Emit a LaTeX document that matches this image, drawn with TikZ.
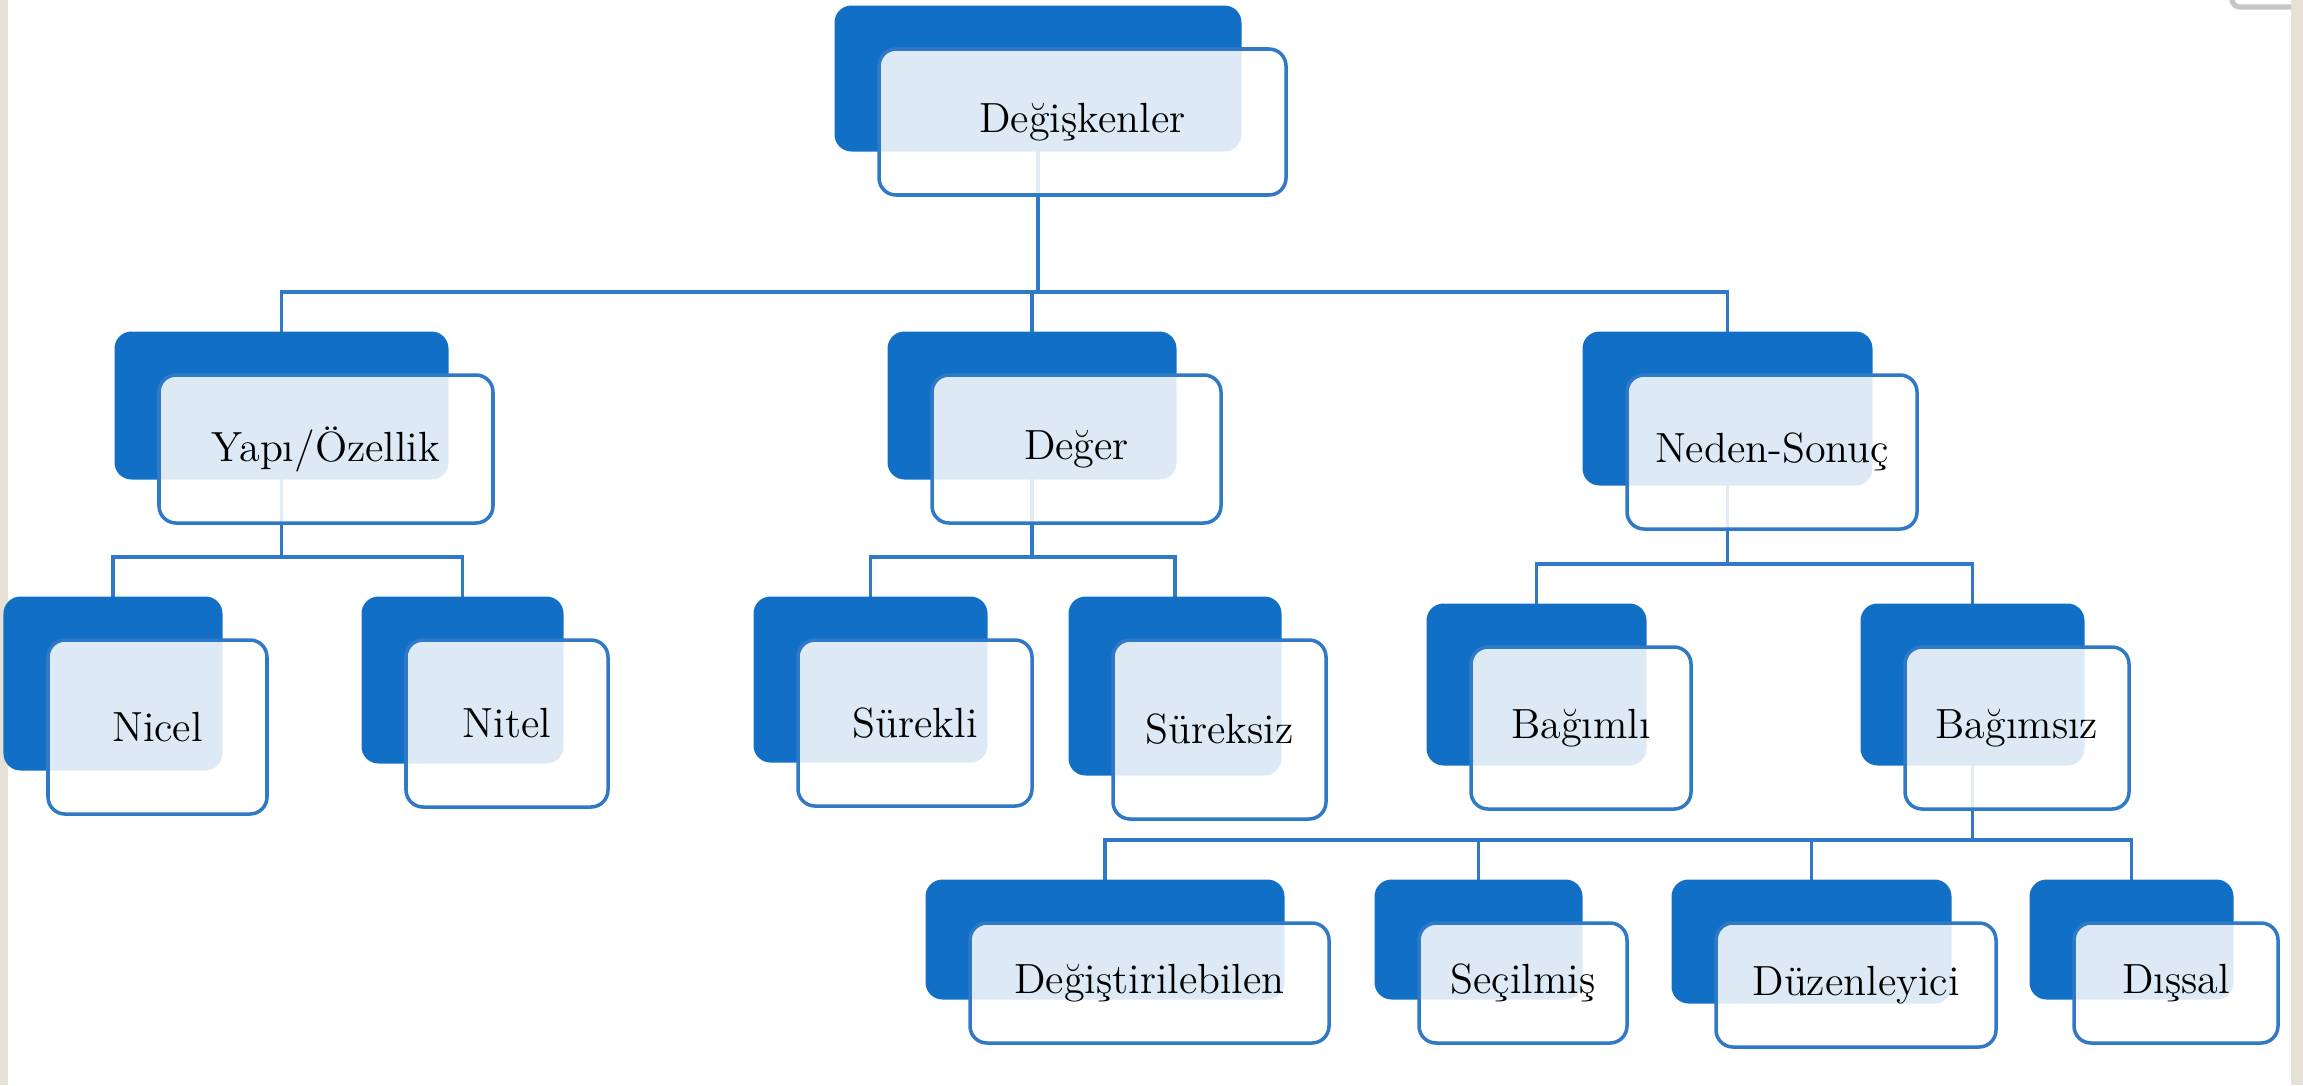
\documentclass[tikz,border=0pt]{standalone}
\usepackage{fontspec}
\usetikzlibrary{shadows,backgrounds}

\definecolor{dblue}{HTML}{1170C6}
\definecolor{lblue}{HTML}{3079C6}
\definecolor{frame}{HTML}{E6E0D6}

\begin{document}
\begin{tikzpicture}[
        card/.style = {draw=lblue, line width=1pt, fill=white, fill opacity=.86, text opacity=1,
            rounded corners=.17cm, inner sep=0pt, font=\fontsize{12}{14}\selectfont,
            general shadow={draw=none, fill=dblue, fill opacity=1, shadow xshift=-4.45mm, shadow yshift=4.35mm}},
        link/.style = {draw=lblue, line width=1.05pt},
        dk/.style = {xshift=-4.45mm}
        ]
        \useasboundingbox (0,0) rectangle (23.03,-10.85);
        \fill[frame] (0,0) rectangle (0.08,-10.85);
        \fill[frame] (22.91,0) rectangle (23.03,-10.85);
        \draw[gray!45, line width=1.5pt, rounded corners=.08cm] (22.32,0) -- (22.32,-0.07) -- (22.91,-0.07);

        \node[card, minimum width=4.07cm, minimum height=1.46cm] (vars) at (10.825,-1.22) {Değişkenler};

        \node[card, minimum width=3.34cm, minimum height=1.48cm] (yapi) at (3.26,-4.49) {Yapı/Özellik};
        \node[card, minimum width=2.89cm, minimum height=1.48cm] (deger) at (10.765,-4.49) {Değer};
        \node[card, minimum width=2.90cm, minimum height=1.54cm] (neden) at (17.72,-4.52) {Neden-Sonuç};

        \node[card, minimum width=2.19cm, minimum height=1.74cm] (nicel) at (1.575,-7.27) {Nicel};
        \node[card, minimum width=2.02cm, minimum height=1.67cm] (nitel) at (5.07,-7.235) {Nitel};
        \node[card, minimum width=2.34cm, minimum height=1.66cm] (surekli) at (9.15,-7.23) {Sürekli};
        \node[card, minimum width=2.13cm, minimum height=1.79cm] (sureksiz) at (12.195,-7.295) {Süreksiz};
        \node[card, minimum width=2.20cm, minimum height=1.62cm] (bagimli) at (15.81,-7.28) {Bağımlı};
        \node[card, minimum width=2.24cm, minimum height=1.62cm] (bagimsiz) at (20.17,-7.28) {Bağımsız};

        \node[card, minimum width=3.59cm, minimum height=1.20cm] (degis) at (11.495,-9.83) {Değiştirilebilen};
        \node[card, minimum width=2.08cm, minimum height=1.20cm] (secil) at (15.23,-9.83) {Seçilmiş};
        \node[card, minimum width=2.80cm, minimum height=1.24cm] (duzen) at (18.56,-9.85) {Düzenleyici};
        \node[card, minimum width=2.04cm, minimum height=1.20cm] (dissal) at (21.76,-9.83) {Dışsal};

        \begin{scope}[on background layer]
        \draw[link] ([dk]vars.center) |- ([dk,yshift=8.1mm]yapi.north) -- ([dk]yapi.center);
        \draw[link] ([dk]vars.center) |- ([dk,yshift=8.1mm]deger.north) -- ([dk]deger.center);
        \draw[link] ([dk]vars.center) |- ([dk,yshift=8.1mm]neden.north) -- ([dk]neden.center);

        \draw[link] ([dk]yapi.center) |- ([dk,yshift=8.1mm]nicel.north) -- ([dk]nicel.center);
        \draw[link] ([dk]yapi.center) |- ([dk,yshift=8.1mm]nitel.north) -- ([dk]nitel.center);
        \draw[link] ([dk]deger.center) |- ([dk,yshift=8.1mm]surekli.north) -- ([dk]surekli.center);
        \draw[link] ([dk]deger.center) |- ([dk,yshift=8.1mm]sureksiz.north) -- ([dk]sureksiz.center);
        \draw[link] ([dk]neden.center) |- ([dk,yshift=8.1mm]bagimli.north) -- ([dk]bagimli.center);
        \draw[link] ([dk]neden.center) |- ([dk,yshift=8.1mm]bagimsiz.north) -- ([dk]bagimsiz.center);

        \draw[link] ([dk]bagimsiz.center) |- ([dk,yshift=8.1mm]degis.north) -- ([dk]degis.center);
        \draw[link] ([dk]bagimsiz.center) |- ([dk,yshift=8.1mm]secil.north) -- ([dk]secil.center);
        \draw[link] ([dk]bagimsiz.center) |- ([dk,yshift=8.1mm]duzen.north) -- ([dk]duzen.center);
        \draw[link] ([dk]bagimsiz.center) |- ([dk,yshift=8.1mm]dissal.north) -- ([dk]dissal.center);
        \end{scope}
\end{tikzpicture}
\end{document}
